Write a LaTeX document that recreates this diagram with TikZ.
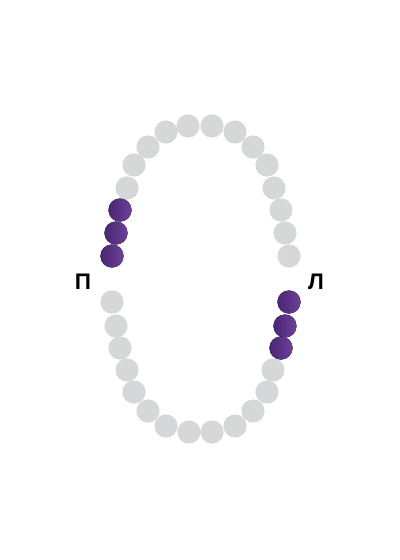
\documentclass[tikz,border=0pt]{standalone}
\usepackage{fontspec}
\setmainfont{Liberation Sans}
\definecolor{beadgray}{HTML}{D6D7D9}
\definecolor{beadpurple}{HTML}{5A2C8A}
\tikzset{
  graybead/.style={fill=beadgray},
  purplebead/.style={left color=beadpurple!85!black,right color=beadpurple!90!white},
  sidelabel/.style={font=\fontsize{16}{18}\selectfont\bfseries}
}
\begin{document}
\begin{tikzpicture}[x=0.025cm,y=-0.025cm]
\useasboundingbox (0,0) rectangle (400,560);
% upper arc
\foreach \x/\y in {127/188,134/165,148/147,166/132,188/126,212/126,235/132,253/147,267/165,274/188,281/210,285/233,289/256}
  \fill [graybead] (\x,\y) circle (0.29cm);
\foreach \x/\y in {120/210,116/233,112/256}
  \fill [purplebead] (\x,\y) circle (0.29cm);
% lower arc
\foreach \x/\y in {112/302,116/326,120/348,127/370,134/392,148/411,166/426,189/432,212/432,235/426,253/411,267/392,273/370}
  \fill [graybead] (\x,\y) circle (0.29cm);
\foreach \x/\y in {289/302,285/326,281/348}
  \fill [purplebead] (\x,\y) circle (0.29cm);
\node [sidelabel] (left) at (83,282) {П};
\node [sidelabel] (right) at (316,282) {Л};
\end{tikzpicture}
\end{document}
